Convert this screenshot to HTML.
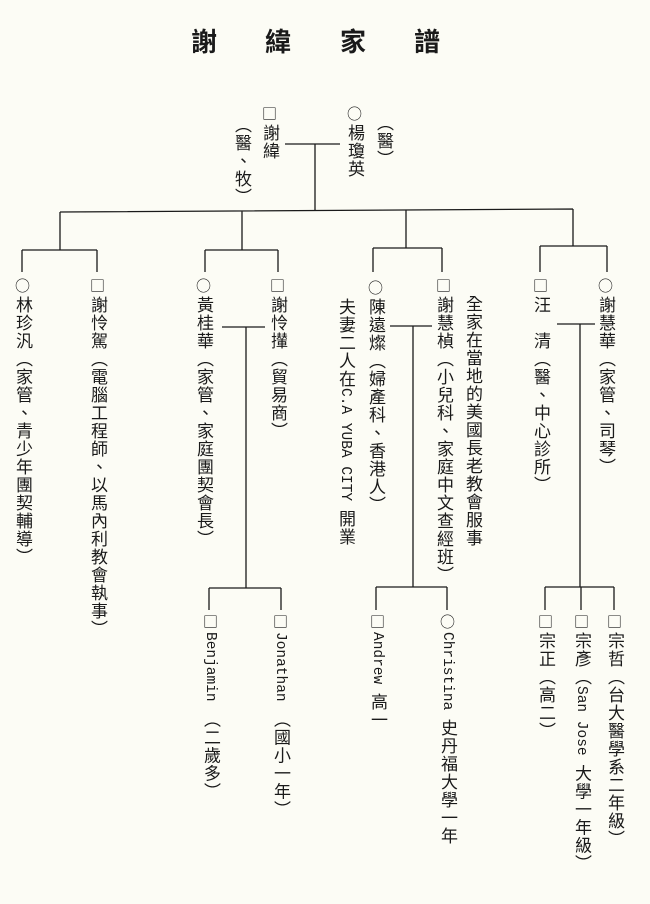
<!DOCTYPE html>
<html><head><meta charset="utf-8"><style>
html,body{margin:0;padding:0}
body{width:650px;height:904px;background:#fcfcf5;position:relative;overflow:hidden;font-family:"Liberation Sans","Noto Sans CJK TC",sans-serif;color:#1a1a1a}
.c{position:absolute;writing-mode:vertical-rl;text-orientation:mixed;font-size:17px;line-height:20px;width:20px;letter-spacing:1px;white-space:nowrap}
.m{font-family:"Liberation Mono","Noto Sans CJK TC",monospace;font-size:14.5px;letter-spacing:0}
.s{font-family:"Noto Sans CJK TC",sans-serif;font-size:15px;letter-spacing:3px}
.t{position:absolute;top:22px;font-size:26px;font-weight:bold;font-family:"Noto Sans CJK TC",sans-serif}
svg{position:absolute;left:0;top:0}
</style></head><body>
<div class="t" style="left:191px">謝</div>
<div class="t" style="left:265px">緯</div>
<div class="t" style="left:340px">家</div>
<div class="t" style="left:414px">譜</div>

<svg width="650" height="904" stroke="#1a1a1a" stroke-width="1.3" fill="none">
<path d="M285 144H340M315 144V211M60 212L573 209M60 212V250M242 211V250M406 210V248M573 209V246"/>
<path d="M22 250H97M22 250V272M97 250V272"/>
<path d="M205 250H278M205 250V272M278 250V272"/>
<path d="M373 248H442M373 248V272M442 248V272"/>
<path d="M540 246H607M540 246V272M607 246V272"/>
<path d="M222 327H265M246 327V588M209 588H281M209 588V610M281 588V610"/>
<path d="M390 326H432M413 326V587M376 587H447M376 587V610M447 587V610"/>
<path d="M557 324H595M580 324V587M545 587H614M545 587V610M581 587V610M614 587V610"/>
</svg>

<div class="c" style="left:259px;top:106px"><span class="s">□</span>謝緯</div>
<div class="c" style="left:231px;top:116px">（醫、牧）</div>
<div class="c" style="left:344px;top:106px"><span class="s">○</span>楊瓊英</div>
<div class="c" style="left:373px;top:114px">（醫）</div>

<div class="c" style="left:12px;top:278px"><span class="s">○</span>林珍汎（家管、青少年團契輔導）</div>
<div class="c" style="left:87px;top:278px"><span class="s">□</span>謝怜駕（電腦工程師、以馬內利教會執事）</div>
<div class="c" style="left:193px;top:278px"><span class="s">○</span>黃桂華（家管、家庭團契會長）</div>
<div class="c" style="left:267px;top:278px"><span class="s">□</span>謝怜攆（貿易商）</div>

<div class="c" style="left:365px;top:280px"><span class="s">○</span>陳遠燦（婦產科、香港人）</div>
<div class="c" style="left:335px;top:298px">夫妻二人在<span class="m">C.A YUBA CITY </span>開業</div>
<div class="c" style="left:433px;top:278px"><span class="s">□</span>謝慧楨（小兒科、家庭中文查經班）</div>
<div class="c" style="left:462px;top:295px">全家在當地的美國長老教會服事</div>
<div class="c" style="left:530px;top:278px"><span class="s">□</span>汪　清（醫、中心診所）</div>
<div class="c" style="left:595px;top:278px"><span class="s">○</span>謝慧華（家管、司琴）</div>

<div class="c" style="left:200px;top:614px"><span class="s">□</span><span class="m">Benjamin </span>（二歲多）</div>
<div class="c" style="left:270px;top:614px"><span class="s">□</span><span class="m">Jonathan </span>（國小一年）</div>
<div class="c" style="left:367px;top:614px"><span class="s">□</span><span class="m">Andrew </span>高一</div>
<div class="c" style="left:437px;top:614px"><span class="s">○</span><span class="m">Christina </span>史丹福大學一年</div>
<div class="c" style="left:535px;top:614px"><span class="s">□</span>宗正（高二）</div>
<div class="c" style="left:571px;top:614px"><span class="s">□</span>宗彥（<span class="m">San Jose </span>大學一年級）</div>
<div class="c" style="left:604px;top:614px"><span class="s">□</span>宗哲（台大醫學系二年級）</div>
</body></html>
